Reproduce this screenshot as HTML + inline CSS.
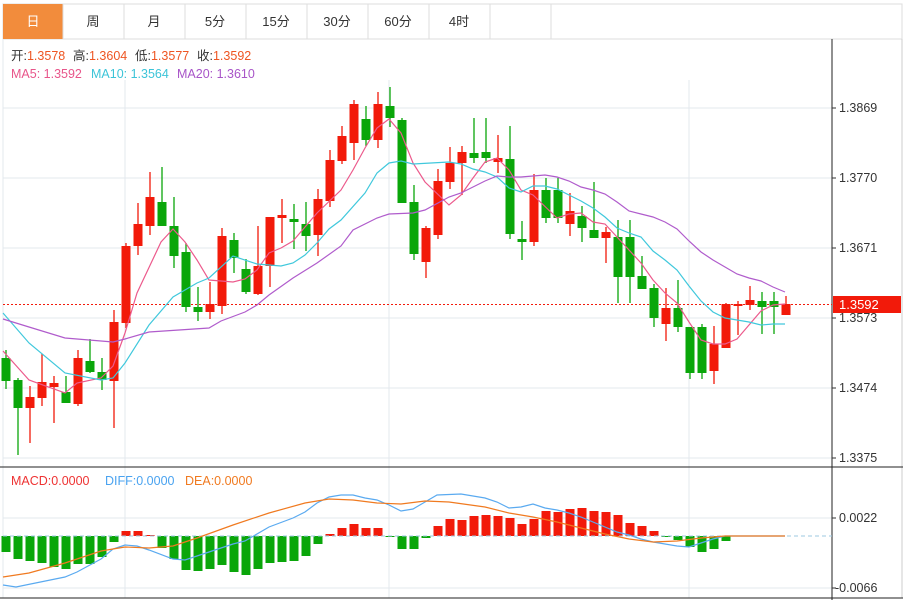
<!DOCTYPE html>
<html><head><meta charset="utf-8"><style>
body{margin:0;width:908px;height:600px;background:#fff;overflow:hidden;font-family:"Liberation Sans","Noto Sans CJK SC",sans-serif}
svg{position:absolute;left:0;top:0}
</style></head><body>
<svg id="s" width="908" height="600" xmlns="http://www.w3.org/2000/svg" font-family="Liberation Sans, Noto Sans CJK SC, sans-serif">
<rect x="3" y="4" width="899" height="35" fill="#fff" stroke="#ddd"/>
<rect x="3" y="4" width="60" height="35" fill="#f28c3c"/>
<g stroke="#ddd"><line x1="124" y1="4" x2="124" y2="39"/><line x1="185" y1="4" x2="185" y2="39"/><line x1="246" y1="4" x2="246" y2="39"/><line x1="307" y1="4" x2="307" y2="39"/><line x1="368" y1="4" x2="368" y2="39"/><line x1="429" y1="4" x2="429" y2="39"/><line x1="490" y1="4" x2="490" y2="39"/><line x1="551" y1="4" x2="551" y2="39"/><line x1="63" y1="4" x2="63" y2="39"/></g>
<g font-size="13" text-anchor="middle" fill="#333"><text x="33" y="26" fill="#fff">日</text><text x="93" y="26">周</text><text x="154" y="26">月</text><text x="215" y="26">5分</text><text x="276" y="26">15分</text><text x="337" y="26">30分</text><text x="398" y="26">60分</text><text x="459" y="26">4时</text></g>
<line x1="902" y1="39" x2="902" y2="598" stroke="#ccc"/>
<line x1="3" y1="39" x2="3" y2="598" stroke="#e3e8ee"/>
<g stroke="#e3e8ee"><line x1="3" x2="832" y1="108" y2="108"/><line x1="3" x2="832" y1="178" y2="178"/><line x1="3" x2="832" y1="248" y2="248"/><line x1="3" x2="832" y1="318" y2="318"/><line x1="3" x2="832" y1="388" y2="388"/><line x1="3" x2="832" y1="458" y2="458"/><line x1="3" x2="832" y1="518" y2="518"/><line x1="3" x2="832" y1="588" y2="588"/><line x1="125" x2="125" y1="80" y2="598"/><line x1="389" x2="389" y1="80" y2="598"/><line x1="689" x2="689" y1="80" y2="598"/></g>
<line x1="0" x2="903" y1="467" y2="467" stroke="#222"/>
<line x1="0" x2="903" y1="598" y2="598" stroke="#222"/>
<line x1="832" x2="832" y1="39" y2="600" stroke="#222"/>
<g font-size="12.5" fill="#333">
<text x="11" y="60">开:<tspan fill="#e52">1.3578</tspan></text>
<text x="73" y="60">高:<tspan fill="#e52">1.3604</tspan></text>
<text x="135" y="60">低:<tspan fill="#e52">1.3577</tspan></text>
<text x="197" y="60">收:<tspan fill="#e52">1.3592</tspan></text>
<text x="11" y="78" fill="#e8558a">MA5: 1.3592</text>
<text x="91" y="78" fill="#3cc4d8">MA10: 1.3564</text>
<text x="177" y="78" fill="#a855c8">MA20: 1.3610</text>
<text x="11" y="485" fill="#e33">MACD:0.0000</text>
<text x="105" y="485" fill="#4aa3f0">DIFF:0.0000</text>
<text x="185" y="485" fill="#f07a20">DEA:0.0000</text></g>
<g font-size="12.5" fill="#333" id="ax"></g>
<g id="c"></g>
</svg>
<script>
var s=document.getElementById('c'),ax=document.getElementById('ax'),NS='http://www.w3.org/2000/svg';
function el(t,a,p){var e=document.createElementNS(NS,t);for(var k in a)e.setAttribute(k,a[k]);(p||s).appendChild(e);return e}
[[108,'1.3869'],[178,'1.3770'],[248,'1.3671'],[318,'1.3573'],[388,'1.3474'],[458,'1.3375'],[518,'0.0022'],[588,'-0.0066']].forEach(function(t){el('line',{x1:832,x2:836,y1:t[0],y2:t[0],stroke:'#333'},ax);var x=el('text',{x:t[1][0]=='-'?835:839,y:t[0]+4},ax);x.textContent=t[1]});
var C=[[358,381,350,389,'g'],[380,408,378,455,'g'],[397,408,386,443,'r'],[382,398,354,406,'r'],[383,387,376,423,'r'],[392,403,376,403,'g'],[358,404,350,406,'r'],[361,372,339,373,'g'],[372,380,358,390,'g'],[322,381,310,428,'r'],
[246,323,243,328,'r'],[224,246,203,255,'r'],[197,226,172,235,'r'],[202,226,167,226,'g'],[226,256,197,268,'g'],[252,307,243,312,'g'],[307,312,287,321,'g'],[304,312,282,319,'r'],[236,306,228,314,'r'],[240,258,233,273,'g'],
[269,292,259,294,'g'],[266,294,226,295,'r'],[217,266,217,287,'r'],[215,218,199,243,'r'],[219,222,204,249,'g'],[224,236,202,251,'g'],[199,235,189,256,'r'],[160,201,150,207,'r'],[136,161,126,164,'r'],[104,143,100,160,'r'],
[119,140,106,146,'g'],[104,140,92,148,'r'],[106,118,87,127,'g'],[120,203,118,203,'g'],[202,254,185,260,'g'],[228,262,226,278,'r'],[181,235,169,239,'r'],[163,182,147,189,'r'],[152,163,146,195,'r'],[153,158,118,163,'g'],
[152,158,118,163,'g'],[158,162,135,173,'r'],[159,234,126,239,'g'],[239,242,221,260,'g'],[190,242,174,246,'r'],[190,218,178,223,'g'],[190,218,178,223,'g'],[211,224,193,236,'r'],[216,228,206,242,'g'],[230,238,182,238,'g'],
[232,238,227,263,'r'],[237,277,220,303,'g'],[237,277,220,303,'g'],[276,289,256,289,'g'],[288,318,284,327,'g'],[308,324,288,341,'r'],[308,327,280,332,'g'],[327,373,327,379,'g'],[327,373,324,379,'g'],[344,371,326,384,'r'],
[304,348,303,348,'r'],[304,306,301,335,'r'],[300,305,286,310,'r'],[301,307,292,334,'g'],[301,307,292,334,'g'],[304,315,296,315,'r']];
var H=[552,559,561,563,567,569,564,564,557,542,531,531,535,548,559,570,571,569,565,572,575,569,563,562,561,556,544,534,528,524,528,528,537,549,549,538,526,519,520,516,515,516,518,524,519,511,512,509,508,511,512,515,523,526,531,537,540,547,552,549,541];
var Z=536;
H.forEach(function(y,i){var x=12*i+6,c=y<Z?'#f21a0a':'#0aa60a';el('rect',{x:x-4.5,y:Math.min(y,Z),width:9,height:Math.max(1,Math.abs(y-Z)),fill:c})});
el('line',{x1:3,x2:832,y1:Z,y2:Z,stroke:'#9cc8e0','stroke-dasharray':'4,3'});
el('line',{x1:3,x2:832,y1:304.5,y2:304.5,stroke:'#f21a0a','stroke-dasharray':'2,2'});
C.forEach(function(d,i){var x=12*i+6,c=d[4]=='r'?'#f21a0a':'#0aa60a';el('line',{x1:x,x2:x,y1:d[2],y2:d[3],stroke:c,'stroke-width':1.3});el('rect',{x:x-4.5,y:d[0],width:9,height:Math.max(2,d[1]-d[0]),fill:c})});
function pl(p,c){el('polyline',{points:p,fill:'none',stroke:c,'stroke-width':1.2})}
pl('3,351 29,380 65,393 77,383 101,378 113,366 125,333 137,293 161,242 173,229 185,242 197,260 209,280 233,282 245,279 257,270 269,253 281,248 293,241 317,213 341,190 353,170 365,148 377,128 389,119 401,133 413,163 425,182 449,205 461,195 473,178 485,162 497,158 509,170 521,190 533,195 557,218 569,214 581,213 593,222 605,224 617,237 629,250 641,263 653,280 665,293 677,303 689,322 701,340 713,344 725,344 737,339 749,325 761,311 773,305 785,304','#ec5a8c');
pl('3,313 29,343 65,373 101,380 113,378 125,363 149,325 173,297 197,283 209,278 233,256 257,264 281,266 293,263 305,255 317,243 329,229 341,220 365,193 377,173 389,163 401,161 413,164 449,162 461,164 473,169 485,172 497,177 509,188 521,192 533,186 545,186 557,189 569,195 581,201 593,208 605,217 617,228 629,233 641,237 653,251 665,260 677,270 689,286 701,301 713,312 725,318 737,320 749,322 761,325 773,324 785,324','#40c8dc');
pl('3,319 29,327 65,338 113,342 125,339 149,332 209,328 221,321 245,312 257,305 269,295 293,278 317,263 341,246 353,230 377,218 389,214 413,213 425,210 449,197 461,193 473,187 485,181 497,176 509,177 521,177 533,176 545,175 557,177 569,181 581,187 593,190 605,194 617,202 629,211 641,214 653,217 665,222 677,229 689,241 701,252 713,260 725,267 737,274 749,278 761,281 773,287 785,292','#b05ccc');
pl('3,585 16,587 65,577 77,572 101,559 113,549 125,545 137,546 149,550 173,559 185,560 209,552 233,544 245,541 269,527 293,518 305,512 317,503 329,497 341,495 353,495 365,498 377,500 389,505 401,511 413,509 425,502 437,495 461,494 485,498 497,502 509,508 521,507 533,504 545,508 557,510 569,513 581,517 593,522 605,527 617,532 629,535 641,539 653,542 665,544 677,546 689,547 701,543 713,539 725,536 785,536','#5aaaf0');
pl('3,577 29,573 65,563 101,551 125,547 149,548 173,546 197,538 233,525 269,513 305,503 329,499 353,500 377,503 401,504 425,501 449,502 485,507 509,513 533,517 557,522 581,528 605,534 629,539 653,542 677,541 701,538 713,537 725,536 785,536','#f07a20');
el('rect',{x:833,y:296,width:68,height:17,fill:'#f21a0a'});
var t=el('text',{x:839,y:309,fill:'#fff','font-size':13});t.textContent='1.3592';
</script>
</body></html>
